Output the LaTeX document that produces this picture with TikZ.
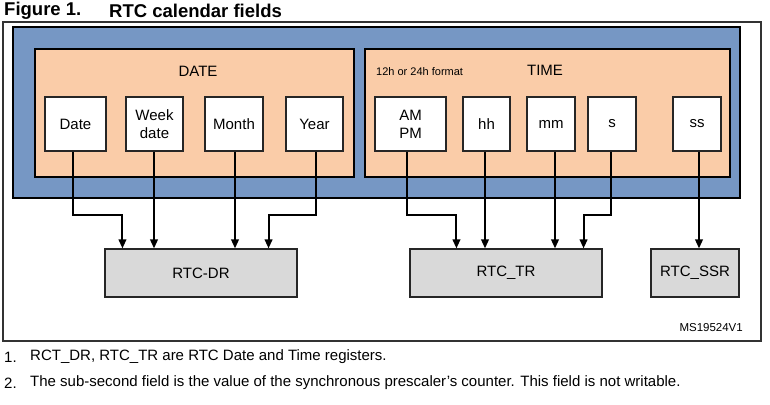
\documentclass[tikz,border=0pt]{standalone}
\usepackage{fontspec}
\setmainfont{Liberation Sans}
\usetikzlibrary{arrows.meta,positioning}
\definecolor{rtcblue}{RGB}{118,151,196}
\definecolor{rtcpeach}{RGB}{250,204,168}
\definecolor{rtcgray}{RGB}{217,217,217}
\tikzset{field/.style={draw=black!85,line width=1.1pt,fill=white,minimum height=54pt,inner sep=0pt,align=center,font=\fontsize{15}{18}\selectfont},
  reg/.style={draw=black!85,line width=1.1pt,fill=rtcgray,minimum height=48pt,inner sep=0pt,font=\fontsize{15}{18}\selectfont},
  feed/.style={-{Triangle[length=9pt,width=7.5pt]},line width=2pt},
  txt/.style={inner sep=0pt,font=\fontsize{15}{18}\selectfont}}

\begin{document}
\begin{tikzpicture}[x=1pt,y=-1pt]
\useasboundingbox (0,0) rectangle (770,404);

% Title
\node[txt,anchor=west,font=\bfseries\fontsize{18.5}{20}\selectfont] (fignum) at (4,11) {Figure 1.};
\node[txt,anchor=west,font=\bfseries\fontsize{18.5}{20}\selectfont] (title) at (109,11) {RTC calendar fields};

% The frames
\draw[black!80,line width=1.2pt] (3,22) rectangle (761,341);
\draw[fill=rtcblue,line width=1.1pt] (13,27) rectangle (740,198);
\draw[fill=rtcpeach,line width=1.1pt] (35,49) rectangle (354,177);
\draw[fill=rtcpeach,line width=1.1pt] (365,49) rectangle (730,177);

% Group labels
\node[txt] (datelbl) at (198,71) {DATE};
\node[txt] (timelbl) at (545,70) {TIME};
\node[txt,anchor=west,font=\fontsize{11}{12}\selectfont] (fmt) at (376,72) {12h or 24h format};

% Date fields
\node[field,minimum width=61pt] (date) at (75.5,124) {Date};
\node[field,minimum width=57pt] (week) at (154.5,124) {Week\\date};
\node[field,minimum width=58pt] (month) at (234,124) {Month};
\node[field,minimum width=57pt] (year) at (314.5,124) {Year};

% Time fields
\node[field,minimum width=71pt] (ampm) at (410.5,124) {AM\\PM};
\node[field,minimum width=47pt] (hh) at (486.5,124) {hh};
\node[field,minimum width=48pt] (mm) at (551,124) {mm};
\node[field,minimum width=48pt] (sec) at (612,124) {s};
\node[field,minimum width=48pt] (subsec) at (697,124) {ss};

% Registers
\node[reg,minimum width=192pt] (dr) at (201,273) {RTC-DR};
\node[reg,minimum width=192pt] (tr) at (506,273) {RTC\_TR};
\node[reg,minimum width=88pt] (ssr) at (695,273) {RTC\_SSR};

% The feeds
\draw[feed] ([xshift=-2.5pt]date.south) -- ++(0,63) -| ([xshift=18pt]dr.north west);
\draw[feed] ([xshift=-0.5pt]week.south) -- ([xshift=-0.5pt]week.south |- dr.north);
\draw[feed] ([xshift=1pt]month.south) -- ([xshift=1pt]month.south |- dr.north);
\draw[feed] ([xshift=1.5pt]year.south) -- ++(0,63) -| ([xshift=-29pt]dr.north east);
\draw[feed] ([xshift=-3.5pt]ampm.south) -- ++(0,63) -| ([xshift=47pt]tr.north west);
\draw[feed] ([xshift=-1.5pt]hh.south) -- ([xshift=-1.5pt]hh.south |- tr.north);
\draw[feed] ([xshift=4pt]mm.south) -- ([xshift=4pt]mm.south |- tr.north);
\draw[feed] ([xshift=-1pt]sec.south) -- ++(0,63) -| ([xshift=-19pt]tr.north east);
\draw[feed] ([xshift=2pt]subsec.south) -- ([xshift=2pt]subsec.south |- ssr.north);

% Figure id
\node[txt,anchor=east,font=\fontsize{11.5}{12}\selectfont] (msid) at (743,328) {MS19524V1};

% Notes
\node[txt,anchor=west] (num1) at (4,357) {1.};
\node[txt,anchor=west] (note1) at (30,357) {RCT\_DR, RTC\_TR are RTC Date and Time registers.};
\node[txt,anchor=west] (num2) at (4,383) {2.};
\node[txt,anchor=west] (note2) at (30,383) {The sub-second field is the value of the synchronous prescaler's counter. This field is not writable.};

\end{tikzpicture}
\end{document}
